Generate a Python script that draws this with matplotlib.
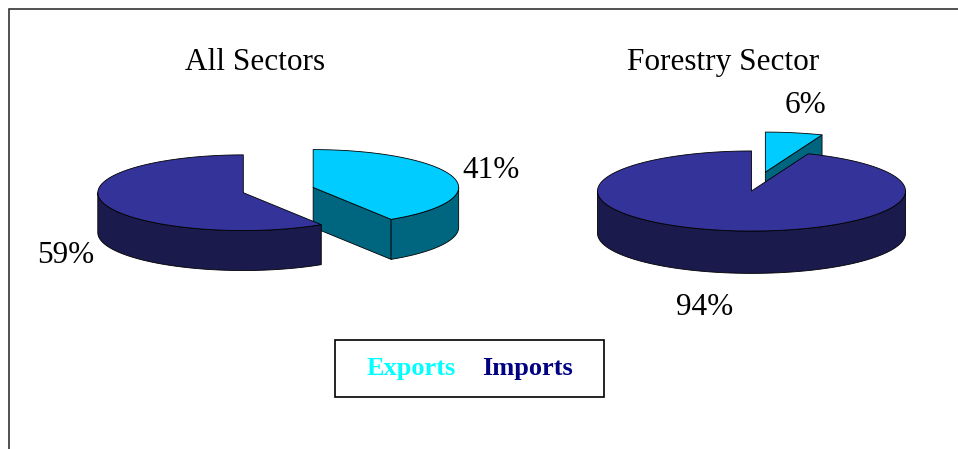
import numpy as np
import matplotlib

matplotlib.use("Agg")
import matplotlib.pyplot as plt
from matplotlib.patches import Polygon, Rectangle

# shares of trade, percent
series_names = ["Exports", "Imports"]
all_sectors = [41, 59]
forestry_sector = [6, 94]
pie_titles = ["All Sectors", "Forestry Sector"]

TOP_COLORS = ["#00CCFF", "#333399"]
SIDE_COLORS = ["#006680", "#1A1A4D"]
LEGEND_COLORS = ["#00FFFF", "#000080"]

W, H = 958, 449
TILT = 0.26        # ry / rx
DEPTH = 0.275      # wall height / rx
SERIF = "Liberation Serif"


def _pt(t, cx, cy, rx, ry):
    # t: angle in radians, clockwise from 12 o'clock
    return cx + rx * np.sin(t), cy - ry * np.cos(t)


def _arc(a, b, cx, cy, rx, ry, n=80):
    ts = np.linspace(a, b, max(2, int(n * (b - a) / np.pi) + 2))
    return [_pt(t, cx, cy, rx, ry) for t in ts]


def draw_pie3d(ax, values, cx, cy, rx, explode):
    ry = rx * TILT
    depth = rx * DEPTH
    total = float(sum(values))
    kw = dict(edgecolor="black", linewidth=0.6, joinstyle="round")

    slices = []
    start = 0.0
    for i, v in enumerate(values):
        t1 = start
        t2 = start + 2 * np.pi * v / total
        mid = 0.5 * (t1 + t2)
        scx = cx + explode[i] * rx * np.sin(mid)
        scy = cy - explode[i] * ry * np.cos(mid)
        slices.append((scy, i, t1, t2, scx))
        start = t2

    # back slices first
    for scy, i, t1, t2, scx in sorted(slices):
        top, side = TOP_COLORS[i], SIDE_COLORS[i]
        # radial cut faces that turn toward the viewer
        for t, visible in ((t1, np.sin(t1) < -1e-9), (t2, np.sin(t2) > 1e-9)):
            if visible:
                ex, ey = _pt(t, scx, scy, rx, ry)
                face = [(scx, scy), (ex, ey), (ex, ey + depth), (scx, scy + depth)]
                ax.add_patch(Polygon(face, closed=True, facecolor=side, **kw))
        # outer wall, front half only
        a, b = max(t1, np.pi / 2), min(t2, 3 * np.pi / 2)
        if b > a:
            upper = _arc(a, b, scx, scy, rx, ry)
            lower = [(x, y + depth) for x, y in upper[::-1]]
            ax.add_patch(Polygon(upper + lower, closed=True, facecolor=side, **kw))
        # top face
        wedge = [(scx, scy)] + _arc(t1, t2, scx, scy, rx, ry)
        ax.add_patch(Polygon(wedge, closed=True, facecolor=top, **kw))


fig = plt.figure(figsize=(W / 100, H / 100), dpi=100)
ax = fig.add_axes([0, 0, 1, 1])
ax.set_xlim(0, W)
ax.set_ylim(H, 0)
ax.axis("off")

# outer chart frame (left and top edges)
ax.plot([9, 9, W], [H, 8.5, 8.5], color="#222222", lw=1.1, solid_joinstyle="miter")

pies = [
    dict(values=all_sectors, cx=243.3, cy=192.7, rx=145.5, explode=[0.5, 0.0],
         title_x=255, labels=[(491, 178), (66, 263)]),
    dict(values=forestry_sector, cx=751.5, cy=191.0, rx=154.0, explode=[0.48, 0.0],
         title_x=723, labels=[(806, 113), (704.5, 315)]),
]

for p, title in zip(pies, pie_titles):
    draw_pie3d(ax, p["values"], p["cx"], p["cy"], p["rx"], p["explode"])
    ax.text(p["title_x"], 70, title, family=SERIF, fontsize=22.5,
            ha="center", va="baseline")
    for v, (lx, ly) in zip(p["values"], p["labels"]):
        ax.text(lx, ly, f"{v}%", family=SERIF, fontsize=22.5,
                ha="center", va="baseline")

# legend: coloured series names in a plain box
ax.add_patch(Rectangle((335, 339.5), 269, 57.5, facecolor="white",
                       edgecolor="black", lw=1.2))
for name, color, lx in zip(series_names, LEGEND_COLORS, [411, 528]):
    ax.text(lx, 375, name, family=SERIF, fontweight="bold", fontsize=19,
            color=color, ha="center", va="baseline")

fig.savefig("out.png", dpi=100)
